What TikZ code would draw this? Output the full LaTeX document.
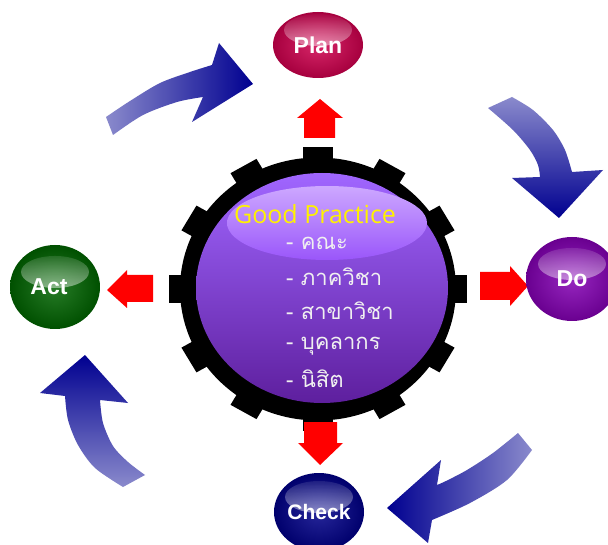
\documentclass[tikz,border=0pt]{standalone}
\usepackage{fontspec}
\setmainfont{Liberation Sans}
\newfontfamily\thaifont[Script=Thai]{Loma}
\newfontfamily\gpfont{Open Sans}
\usetikzlibrary{shapes.geometric,fadings}
\definecolor{planc}{HTML}{D0004E}
\definecolor{actc}{HTML}{006400}
\definecolor{doc}{HTML}{8400B4}
\definecolor{checkc}{HTML}{000088}
\definecolor{arlight}{HTML}{8A8ACC}
\definecolor{armid}{HTML}{2A2AA2}
\definecolor{ardark}{HTML}{000090}
\definecolor{sptop}{HTML}{A066FF}
\definecolor{spmid}{HTML}{8A3CEA}
\definecolor{spbot}{HTML}{5E1F9E}
\definecolor{hltop}{HTML}{CDA8FF}
\definecolor{hlbot}{HTML}{9A56FA}
\tikzset{
  ball/.style={ellipse, inner sep=0pt, text=white,
    font=\fontsize{23}{23}\selectfont\bfseries,
    inner color=#1!85!white, outer color=#1!80!black,
    path picture={\fill[white, path fading=north, fill opacity=0.9]
      (path picture bounding box.center) ++(0,-15) ellipse (34 and 16);}},
  redarrow/.style={fill=red},
  thai/.style={anchor=west, text=white!94!black, font=\thaifont\fontsize{22}{22}\selectfont, inner sep=0pt}
}
\begin{document}
\begin{tikzpicture}[x=1pt,y=-1pt]
\useasboundingbox (0,0) rectangle (608,545);
\fill[white] (0,0) rectangle (608,545);

% curved arrows
\shade[left color=arlight, middle color=armid, right color=ardark]
  plot[smooth] coordinates {(106,117) (130,101) (160,83) (190,72) (212,65)}
  -- (219,43) -- (253,84) -- (192,122) -- (203,97)
  -- plot[smooth] coordinates {(203,97) (177,102) (143,115) (113,135)} -- cycle;
\shade[top color=arlight, middle color=armid, bottom color=ardark]
  plot[smooth] coordinates {(512,97) (533,110) (553,130) (565,150) (572,172)}
  -- (603,170) -- (559,218) -- (512,178) -- (540,177)
  -- plot[smooth] coordinates {(540,177) (538,165) (530,150) (513,130) (488,108)} -- cycle;
\shade[right color=arlight, middle color=armid, left color=ardark]
  plot[smooth] coordinates {(518,433) (493,453) (467,470) (446,481) (437,485)}
  -- (441,460) -- (387,508) -- (428,543) -- (432,520)
  -- plot[smooth] coordinates {(432,520) (470,503) (507,480) (532,450)} -- cycle;
\shade[bottom color=arlight, middle color=armid, top color=ardark]
  (128,403) -- (85,355) -- (40,393) -- (65,396)
  -- plot[smooth] coordinates {(65,396) (68,420) (78,445) (95,468) (123,487)}
  -- (145,475)
  -- plot[smooth] coordinates {(145,475) (128,462) (113,446) (103,423) (100,400)} -- cycle;

% gear
\begin{scope}[shift={(318,289)}, yscale=0.953]
  \fill[black] (0,0) circle (138);
  \foreach \a in {0,30,...,330}
    \fill[black, rotate=\a] (124,-15) rectangle (149,15);
\end{scope}

% sphere
\node[ellipse, minimum width=252pt, minimum height=230pt, inner sep=0pt,
  top color=sptop, middle color=spmid, bottom color=spbot] (core) at (322,288) {};
\shade[top color=hltop, bottom color=hlbot] (327,223) ellipse (100 and 37);

% red arrows
\fill[redarrow] (304,138) -- (304,118) -- (297,118) -- (320,99) -- (343,118) -- (335,118) -- (335,138) -- cycle;
\fill[redarrow] (304,422) -- (304,443) -- (298,443) -- (320,465) -- (343,443) -- (337,443) -- (337,422) -- cycle;
\fill[redarrow] (153,275) -- (127,275) -- (127,270) -- (107,290) -- (127,308) -- (127,302) -- (153,302) -- cycle;
\fill[redarrow] (480,272) -- (510,272) -- (510,266) -- (528,286) -- (510,306) -- (510,300) -- (480,300) -- cycle;

% balls
\node[ball=planc, minimum width=90pt, minimum height=66pt] (plan) at (318,45) {\raisebox{-4pt}{Plan}};
\node[ball=actc, minimum width=90pt, minimum height=84pt] (act) at (55,287) {\raisebox{-2pt}{\hspace{-12pt}Act}};
\node[ball=doc, minimum width=92pt, minimum height=84pt] (do) at (572,279) {\raisebox{-2pt}{Do}};
\node[ball=checkc, minimum width=90pt, minimum height=78pt] (check) at (319,512) {\fontsize{21}{21}\selectfont Check};

% texts
\node[text=yellow, font=\gpfont\fontsize{25}{25}\selectfont, inner sep=0pt] (gp) at (315,214) {Good Practice};
\node[thai] (t1) at (286,243) {- คณะ};
\node[thai] (t2) at (286,277) {- ภาควิชา};
\node[thai] (t3) at (286,311) {- สาขาวิชา};
\node[thai] (t4) at (286,346) {- บุคลากร};
\node[thai] (t5) at (286,379) {- นิสิต};
\end{tikzpicture}
\end{document}
